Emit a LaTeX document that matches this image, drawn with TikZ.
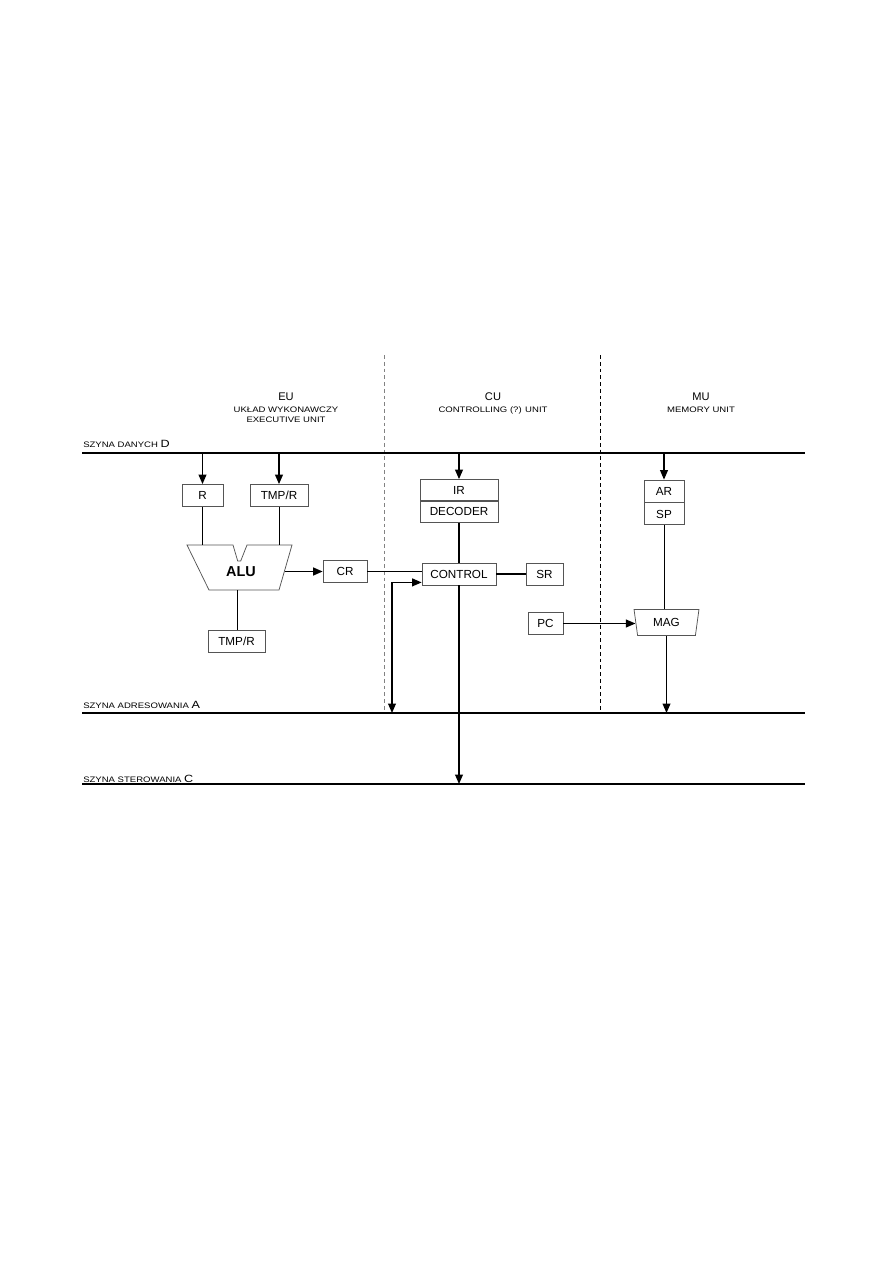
\documentclass[tikz,border=0pt]{standalone}
\usepackage{fontspec}
\setmainfont{Liberation Sans}
\newfontfamily\widefont[FakeStretch=1.2]{Liberation Sans}
\usetikzlibrary{arrows.meta,shapes.geometric}
\definecolor{boxgrey}{RGB}{85,85,85}
\definecolor{divgrey}{RGB}{130,130,130}
\tikzset{
  base/.style={font=\fontsize{7.8}{9}\selectfont, align=center, inner sep=0pt, text=black, text height=5.6pt, text depth=0pt},
  box/.style={base, rectangle, draw=boxgrey, fill=white, line width=0.5pt, minimum height=14.7pt},
  mux/.style={base, trapezium, shape border rotate=180, trapezium stretches=true, trapezium left angle=79, trapezium right angle=79, draw=boxgrey, line width=0.5pt, minimum width=43.3pt, minimum height=17.3pt},
  unit/.style={draw=boxgrey, line width=0.5pt},
  alutext/.style={font=\fontsize{9.6}{11}\selectfont\bfseries, inner sep=0pt},
  head/.style={font=\fontsize{7.4}{8}\selectfont, inner sep=0pt, anchor=base},
  sub/.style={font=\widefont\fontsize{5.3}{6.3}\selectfont, inner sep=0pt, anchor=base},
  buslbl/.style={font=\widefont\fontsize{5.3}{6.3}\selectfont, inner sep=0pt, anchor=base west},
  bus/.style={line width=1.8pt},
  cbusline/.style={line width=1.3pt},
  wire/.style={line width=0.9pt},
  thinwire/.style={line width=0.6pt},
  arr/.style={-{Triangle[length=6.3pt,width=5.2pt]}, line width=0.9pt},
  arr2/.style={{Triangle[length=6.3pt,width=5.2pt]}-{Triangle[length=6.3pt,width=5.2pt]}, line width=0.9pt},
  divl/.style={draw=divgrey, line width=0.5pt, dash pattern=on 2.5pt off 2pt},
  divr/.style={draw=black, line width=0.5pt, dash pattern=on 2.5pt off 2pt},
}

\begin{document}
\begin{tikzpicture}[x=0.6667pt,y=-0.6667pt]
  \useasboundingbox (0,0) rectangle (893,1263);
  % column heads
  \node[head] (eu) at (286,400) {EU};
  \node[sub] (eu1) at (286,412.3) {UKŁAD WYKONAWCZY};
  \node[sub] (eu2) at (286,422.7) {EXECUTIVE UNIT};
  \node[head] (cu) at (493,400.5) {CU};
  \node[sub] (cu1) at (493,412.3) {CONTROLLING (?) UNIT};
  \node[head] (mu) at (701,400.5) {MU};
  \node[sub] (mu1) at (701,412.3) {MEMORY UNIT};
  \draw[divl] (384,355) -- (384,713);
  \draw[divr] (600,355) -- (600,713);
  % buses
  \coordinate (dbus) at (82,453);  \coordinate (dbusE) at (805,453);
  \coordinate (abus) at (82,713);  \coordinate (abusE) at (805,713);
  \coordinate (cbus) at (82,784);  \coordinate (cbusE) at (805,784);
  \draw[bus] (dbus) -- (dbusE);
  \draw[bus] (abus) -- (abusE);
  \draw[cbusline] (cbus) -- (cbusE);
  \node[buslbl] (lbld) at (83,447) {SZYNA DANYCH \fontsize{7}{8}\selectfont D};
  \node[buslbl] (lbla) at (83,708) {SZYNA ADRESOWANIA \fontsize{7}{8}\selectfont A};
  \node[buslbl] (lblc) at (83,782.5) {SZYNA STEROWANIA \fontsize{7}{8}\selectfont C};
  % executive unit
  \node[box,minimum width=27.3pt] (r) at (202.5,495.5) {R};
  \node[box,minimum width=38.7pt] (tmpa) at (279,495.5) {TMP/R};
  \draw[unit] (187,545) -- (233,545) -- (237.7,561) -- (240.7,561) -- (247,545) -- (292,545) -- (279,590) -- (209,590) -- cycle;
  \node[alutext] (alu) at (241,571.5) {ALU};
  \coordinate (aluT) at (240,545);
  \coordinate (aluR) at (284.5,571.5);
  \coordinate (aluB) at (237.5,590);
  \node[box,minimum width=38pt] (tmpb) at (236.5,641) {TMP/R};
  \node[box,minimum width=29.3pt] (cr) at (345,571.5) {CR};
  % control unit
  \node[box,minimum width=52pt,minimum height=14pt] (ir) at (459,490) {IR};
  \node[box,minimum width=52pt,minimum height=14pt,anchor=north] (dec) at (ir.south) {DECODER};
  \node[box,minimum width=49.3pt] (ctrl) at (459,574) {CONTROL};
  \node[box,minimum width=24.7pt] (sr) at (544.5,574) {SR};
  \node[box,minimum width=23.3pt] (pc) at (545.5,623.5) {PC};
  % memory unit
  \node[box,minimum width=26.7pt] (ar) at (664,491) {AR};
  \node[box,minimum width=26.7pt,anchor=north] (sp) at (ar.south) {SP};
  \node[mux] (mag) at (666.5,622.5) {MAG};
  % connections
  \foreach \n in {r,tmpa,ir,ar}{\draw[arr] (\n.north |- dbus) -- (\n.north);}
  \draw[wire] (r.south) -- (r.south |- aluT);
  \draw[thinwire] (tmpa.south) -- (tmpa.south |- aluT);
  \draw[thinwire] (aluB) -- (aluB |- tmpb.north);
  \draw[arr,line width=1.1pt] (aluR) -- (aluR -| cr.west);
  \draw[wire] (cr.east) -- (cr.east -| ctrl.west);
  \draw[wire] (dec.south) -- (ctrl.north);
  \draw[wire] (ctrl.east) -- (sr.west);
  \draw[arr] (ctrl.south) -- (ctrl.south |- cbus);
  \coordinate (ret) at (392,713);
  \draw[arr2] ([yshift=2pt]ctrl.south west) -| (ret);
  \draw[arr] (pc.east) -- (pc.east -| mag.west);
  \draw[thinwire] (sp.south) -- (sp.south |- mag.north);
  \draw[arr] (mag.south) -- (mag.south |- abus);
\end{tikzpicture}
\end{document}
